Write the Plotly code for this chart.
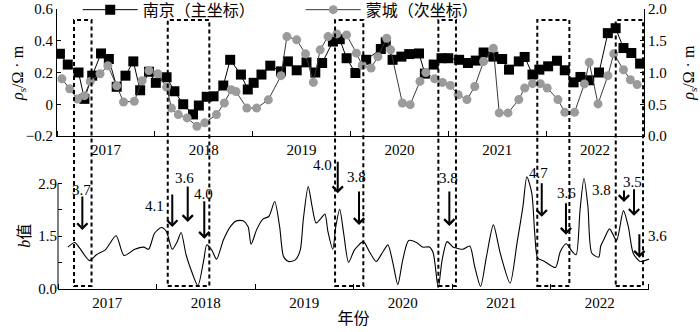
import plotly.graph_objects as go

# ---------------- data ----------------
year_labels = ["2017", "2018", "2019", "2020", "2021", "2022"]
year_mid = [2017.5, 2018.5, 2019.5, 2020.5, 2021.5, 2022.5]

# 南京 (left axis, Ω·m)
nj_t = [2017.03, 2017.11, 2017.22, 2017.28, 2017.36, 2017.45, 2017.53, 2017.61, 2017.70, 2017.78,
        2017.85, 2017.94, 2018.01, 2018.12, 2018.20, 2018.29, 2018.39, 2018.45, 2018.53, 2018.60,
        2018.70, 2018.77, 2018.88, 2018.95, 2019.01, 2019.09, 2019.18, 2019.29, 2019.36, 2019.45,
        2019.55, 2019.64, 2019.71, 2019.82, 2019.89, 2019.96, 2020.05, 2020.16, 2020.31, 2020.36,
        2020.43, 2020.52, 2020.60, 2020.70, 2020.76, 2020.85, 2020.93, 2021.00, 2021.11, 2021.20,
        2021.28, 2021.36, 2021.46, 2021.55, 2021.62, 2021.72, 2021.78, 2021.86, 2021.93, 2022.02,
        2022.11, 2022.19, 2022.28, 2022.35, 2022.44, 2022.54, 2022.63, 2022.71, 2022.79, 2022.87,
        2022.96]
nj_v = [0.318, 0.25, 0.20, 0.034, 0.18, 0.32, 0.285, 0.11, 0.18, 0.27,
        0.088, 0.205, 0.135, 0.17, 0.082, 0.0, -0.064, -0.008, 0.047, 0.05,
        0.118, 0.28, 0.187, 0.093, 0.135, 0.187, 0.243, 0.207, 0.27, 0.214,
        0.264, 0.20, 0.26, 0.395, 0.41, 0.29, 0.197, 0.28, 0.348, 0.39,
        0.28, 0.30, 0.316, 0.32, 0.193, 0.25, 0.29, 0.29, 0.28, 0.26,
        0.275, 0.326, 0.30, 0.285, 0.218, 0.27, 0.298, 0.187, 0.218, 0.239,
        0.274, 0.214, 0.138, 0.172, 0.151, 0.20, 0.448, 0.479, 0.354, 0.323,
        0.256]

# 蒙城 (right axis, Ω·m)
mc_t = [2017.05, 2017.13, 2017.21, 2017.28, 2017.34, 2017.44, 2017.52, 2017.61, 2017.68, 2017.79,
        2017.87, 2017.94, 2018.03, 2018.12, 2018.17, 2018.24, 2018.33, 2018.43, 2018.51, 2018.63,
        2018.71, 2018.78, 2018.83, 2018.94, 2019.04, 2019.16, 2019.29, 2019.35, 2019.45, 2019.54,
        2019.62, 2019.69, 2019.77, 2019.86, 2019.96, 2020.06, 2020.12, 2020.21, 2020.28, 2020.37,
        2020.41, 2020.53, 2020.61, 2020.71, 2020.77, 2020.86, 2020.94, 2021.02, 2021.10, 2021.19,
        2021.27, 2021.36, 2021.46, 2021.52, 2021.61, 2021.72, 2021.78, 2021.86, 2021.94, 2022.01,
        2022.12, 2022.19, 2022.29, 2022.39, 2022.44, 2022.53, 2022.63, 2022.69, 2022.79, 2022.86,
        2022.93]
mc_v = [0.90, 0.745, 0.583, 0.635, 0.86, 0.98, 1.106, 0.79, 0.536, 0.546,
        0.87, 1.03, 0.98, 0.77, 0.44, 0.337, 0.285, 0.154, 0.207, 0.337,
        0.52, 0.73, 0.70, 0.44, 0.44, 0.57, 0.95, 1.566, 1.514, 1.294,
        0.844, 1.357, 1.566, 1.608, 1.592, 1.305, 1.11, 1.07, 1.25, 1.54,
        1.357, 0.52, 0.494, 0.86, 1.0, 0.90, 0.844, 0.797, 0.65, 0.573,
        0.78, 1.173, 1.38, 0.364, 0.364, 0.573, 0.756, 0.824, 0.824, 0.756,
        0.573, 0.373, 0.373, 0.82, 1.16, 0.505, 0.95, 1.294, 1.043, 0.886,
        0.81]

# b value curve
b_t = [2017.10, 2017.17, 2017.22, 2017.32, 2017.39, 2017.48, 2017.59, 2017.67, 2017.78, 2017.87,
       2017.92, 2017.98, 2018.05, 2018.10, 2018.16, 2018.21, 2018.25, 2018.30, 2018.35, 2018.42,
       2018.48, 2018.51, 2018.56, 2018.61, 2018.68, 2018.75, 2018.81, 2018.88, 2018.93, 2018.96,
       2019.02, 2019.08, 2019.14, 2019.20, 2019.25, 2019.29, 2019.34, 2019.41, 2019.46, 2019.49,
       2019.54, 2019.58, 2019.62, 2019.67, 2019.71, 2019.74, 2019.79, 2019.82, 2019.86, 2019.90,
       2019.95, 2020.01, 2020.10, 2020.16, 2020.23, 2020.30, 2020.35, 2020.40, 2020.45, 2020.50,
       2020.56, 2020.64, 2020.70, 2020.77, 2020.81, 2020.86, 2020.90, 2020.95, 2021.01, 2021.05,
       2021.11, 2021.18, 2021.23, 2021.29, 2021.35, 2021.42, 2021.49, 2021.59, 2021.66, 2021.72,
       2021.76, 2021.81, 2021.84, 2021.87, 2021.94, 2022.05, 2022.10, 2022.16, 2022.22, 2022.26,
       2022.30, 2022.34, 2022.38, 2022.42, 2022.49, 2022.51, 2022.54, 2022.60, 2022.67, 2022.74,
       2022.79, 2022.84, 2022.91, 2023.00]
b_v = [1.15, 1.275, 1.12, 0.78, 0.94, 1.075, 1.46, 0.92, 1.09, 1.15,
       1.09, 1.53, 1.69, 1.58, 1.09, 1.30, 1.55, 0.94, 0.53, 0.09,
       0.80, 1.21, 1.075, 0.82, 1.35, 1.71, 1.87, 1.87, 1.71, 1.23,
       1.65, 1.92, 1.99, 2.40, 1.71, 0.89, 0.755, 0.80, 1.075, 1.90,
       2.81, 2.26, 1.81, 1.94, 2.06, 1.58, 1.09, 1.71, 2.19, 1.53,
       0.73, 1.075, 1.30, 1.03, 0.755, 1.03, 1.21, 0.71, 0.12, 0.80,
       1.33, 1.275, 1.15, 1.15, 0.98, 0.03, 0.80, 1.30, 1.15, 1.12,
       1.09, 1.18, 0.62, 0.07, 0.89, 1.76, 0.98, 0.16, 1.26, 2.26,
       3.08, 2.63, 1.53, 0.85, 0.755, 0.59, 1.03, 1.24, 1.03, 0.94,
       2.17, 3.04, 2.26, 0.98, 0.875, 1.18, 1.35, 1.65, 1.33, 2.15,
       1.71, 0.98, 0.755, 0.82]

# earthquake windows (dashed boxes)
box_start = [2017.174, 2018.132, 2019.842, 2020.898, 2021.909, 2022.711]
box_end = [2017.353, 2018.557, 2020.131, 2021.078, 2022.237, 2022.99]

# earthquakes: time, b level the arrow points to, arrow length (px), magnitude
eq_t = [2017.247, 2018.160, 2018.317, 2018.485, 2019.840, 2020.056,
        2020.973, 2021.911, 2022.157, 2022.746, 2022.848, 2022.902]
eq_b = [1.62, 1.70, 1.84, 1.38, 2.63, 1.76, 1.73, 1.98, 1.49, 2.39, 2.01, 0.86]
eq_len = [35, 34, 37, 39, 33, 35, 36, 35, 33, 13, 28, 25]
eq_mag = ["3.7", "4.1", "3.6", "4.0", "4.0", "3.8", "3.8", "4.7", "3.6", "3.8", "3.5", "3.6"]
# label positions (paper fraction)
lab_x = [0.0422, 0.1639, 0.2162, 0.2483, 0.4493, 0.5051, 0.6605, 0.8125, 0.8598, 0.9206, 0.9713, 1.0152]
lab_y = [0.3536, 0.2964, 0.3964, 0.3393, 0.4429, 0.4000, 0.3964, 0.4143, 0.3429, 0.3536, 0.3821, 0.1893]

left_ticks = [-0.2, 0, 0.2, 0.4, 0.6]
left_ticktext = ["\u22120.2", "0", "0.2", "0.4", "0.6"]
right_ticks = [0, 0.5, 1.0, 1.5, 2.0]
right_ticktext = ["0.0", "0.5", "1.0", "1.5", "2.0"]
b_ticks = [0, 0.725, 1.45, 2.175, 2.9]
b_ticktext = ["0.0", "", "1.5", "", "2.9"]

SERIF = "Liberation Serif, Times New Roman, Noto Sans CJK SC, serif"
FONT = dict(family=SERIF, size=15, color="black")

fig = go.Figure()

fig.add_trace(go.Scatter(
    x=nj_t, y=nj_v, name="南京（主坐标）", mode="lines+markers",
    line=dict(color="black", width=1),
    marker=dict(symbol="square", size=10, color="black"),
    xaxis="x", yaxis="y"))
fig.add_trace(go.Scatter(
    x=mc_t, y=mc_v, name="蒙城（次坐标）", mode="lines+markers",
    line=dict(color="#3a3a3a", width=1),
    marker=dict(symbol="circle", size=9, color="#9b9b9b"),
    xaxis="x", yaxis="y3"))
fig.add_trace(go.Scatter(
    x=b_t, y=b_v, mode="lines", showlegend=False,
    line=dict(color="black", width=1.1, shape="spline", smoothing=0.7),
    xaxis="x2", yaxis="y2"))

# dashed boxes
for s, e in zip(box_start, box_end):
    fig.add_shape(type="rect", xref="x", yref="paper", x0=s, x1=e, y0=0.0107, y1=0.9607,
                  line=dict(color="black", width=2, dash="4px,3px"), fillcolor="rgba(0,0,0,0)",
                  layer="above")

# left axis line of the b-value panel (up to 2.9 only)
fig.add_shape(type="line", xref="x2 domain", yref="y2", x0=0, x1=0, y0=0, y1=2.9,
              line=dict(color="black", width=1))

annotations = []
for t, b, ln in zip(eq_t, eq_b, eq_len):
    annotations.append(dict(x=t, y=b, xref="x2", yref="y2", text="", showarrow=True,
                            ax=0, ay=-ln, arrowhead=4, arrowsize=1.0, arrowwidth=2,
                            arrowcolor="black", standoff=0))
for m, lx, ly in zip(eq_mag, lab_x, lab_y):
    annotations.append(dict(x=lx, y=ly, xref="paper", yref="paper", text=m, showarrow=False,
                            font=FONT, xanchor="center", yanchor="middle"))

# axis titles
TFONT = dict(family=SERIF, size=16, color="black")
annotations.append(dict(x=-0.066, y=0.771, xref="paper", yref="paper", textangle=-90,
                        text="<i>ρ</i><sub>s</sub>/Ω · m", showarrow=False, font=TFONT,
                        xanchor="center", yanchor="middle"))
annotations.append(dict(x=1.067, y=0.771, xref="paper", yref="paper", textangle=-90,
                        text="<i>ρ</i><sub>s</sub>/Ω · m", showarrow=False, font=TFONT,
                        xanchor="center", yanchor="middle"))
annotations.append(dict(x=-0.054, y=0.19, xref="paper", yref="paper", textangle=-90,
                        text="<i>b</i>值", showarrow=False, font=TFONT,
                        xanchor="center", yanchor="middle"))

axis_common = dict(showgrid=False, zeroline=False, linecolor="black", linewidth=1,
                   tickfont=FONT, tickcolor="black", automargin=False)

fig.update_layout(
    width=700, height=332,
    margin=dict(l=57, r=51, t=9, b=43, autoexpand=False),
    paper_bgcolor="white", plot_bgcolor="white",
    font=FONT,
    showlegend=True,
    legend=dict(orientation="h", x=0.035, y=1.058, xanchor="left", yanchor="top",
                bgcolor="rgba(0,0,0,0)", font=dict(family=SERIF, size=16, color="black"),
                itemwidth=55, entrywidth=153, entrywidthmode="pixels"),
    xaxis=dict(domain=[0, 0.9916], range=[2017, 2023], anchor="y",
               tickvals=year_mid, ticktext=year_labels, ticks="", showline=True,
               minor=dict(ticks="inside", tick0=2017, dtick=1, ticklen=5, tickcolor="black"),
               **axis_common),
    yaxis=dict(domain=[0.5464, 1], range=[-0.2, 0.6], anchor="x",
               tickvals=left_ticks, ticktext=left_ticktext, ticks="inside", ticklen=4,
               showline=True, **axis_common),
    yaxis3=dict(range=[0, 2.0], overlaying="y", side="right", anchor="x",
                tickvals=right_ticks, ticktext=right_ticktext, ticks="inside", ticklen=4,
                showline=True, **axis_common),
    xaxis2=dict(domain=[0.0017, 1], range=[2017, 2023], anchor="y2",
                tickvals=year_mid, ticktext=year_labels, ticks="", showline=True,
                minor=dict(ticks="inside", tick0=2017, dtick=1, ticklen=5, tickcolor="black"),
                title=dict(text="年份", font=TFONT, standoff=2),
                **axis_common),
    yaxis2=dict(domain=[0, 0.4164], range=[0, 3.2], anchor="x2",
                tickvals=b_ticks, ticktext=b_ticktext, ticks="inside", ticklen=4,
                showline=False, **axis_common),
    annotations=annotations,
)

fig.write_html("out.html", config={"displayModeBar": False},
               post_script="document.body.style.margin='0px';")
